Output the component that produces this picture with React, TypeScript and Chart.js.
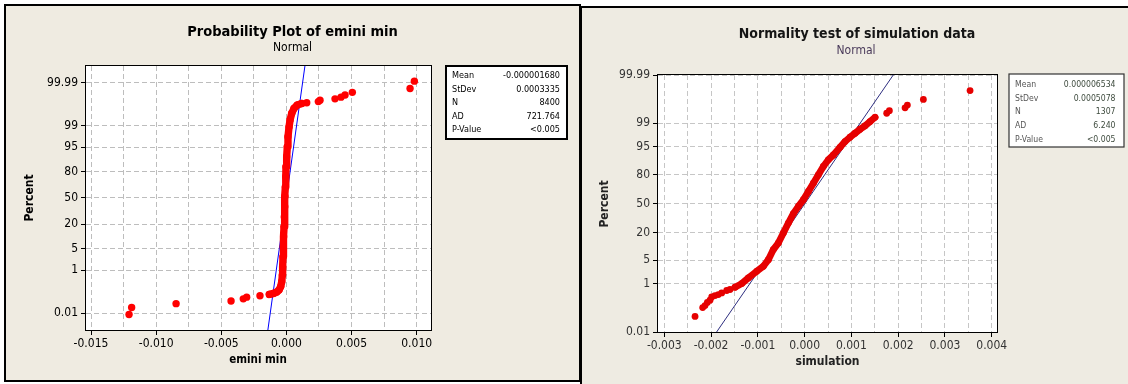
import React, { useEffect, useRef } from 'react';
import { Chart, registerables } from 'chart.js';

Chart.register(...registerables);

const FONT = "'DejaVu Sans Condensed', 'DejaVu Sans', 'Liberation Sans', sans-serif";

// ---------- shared probability axis ----------
const percentTicks = [0.01, 1, 5, 20, 50, 80, 95, 99, 99.99];
const percentTickLabels = ['0.01', '1', '5', '20', '50', '80', '95', '99', '99.99'];
const statLabels = ['Mean', 'StDev', 'N', 'AD', 'P-Value'];

// ---------- left chart: Probability Plot of emini min ----------
const leftTitle = 'Probability Plot of emini min';
const leftSubtitle = 'Normal';
const leftXTitle = 'emini min';
const leftYTitle = 'Percent';
const leftXTicks = [-0.015, -0.0125, -0.01, -0.0075, -0.005, -0.0025, 0, 0.0025, 0.005, 0.0075, 0.01];
const leftXTickLabels = ['-0.015', '', '-0.010', '', '-0.005', '', '0.000', '', '0.005', '', '0.010'];
const leftXRange = [-0.015384, 0.011098];
const leftPercentRange = [0.001, 99.999];
const leftMean = -0.00000168;
const leftStDev = 0.0003335;
const leftStatValues = ['-0.000001680', '0.0003335', '8400', '721.764', '<0.005'];
// dense body of the sample (x value, cumulative percent)
const leftCoreX = [-0.00131, -0.001, -0.00075, -0.00057, -0.00044, -0.00036, -0.00031, -0.00029, -0.00026, -0.00024, -0.00021, -0.00018, -0.00016, -0.00013, -0.00011, -0.00008, -0.00005, -0.00003, 0.00002, 0.00007, 0.00012, 0.0002, 0.00028, 0.00041, 0.00058, 0.00084, 0.00117];
const leftCorePct = [0.092, 0.102, 0.118, 0.147, 0.21, 0.34, 0.64, 1.3, 2.9, 5.8, 10.5, 17.7, 27, 39, 52, 64, 75.5, 84.4, 90.9, 95.1, 97.6, 98.9, 99.42, 99.69, 99.81, 99.868, 99.886];
// isolated extreme points
const leftTailX = [-0.01208, -0.01188, -0.00847, -0.00425, -0.00331, -0.00305, -0.00203, 0.00156, 0.00245, 0.00258, 0.00373, 0.00419, 0.0045, 0.00506, 0.00949, 0.00982];
const leftTailPct = [0.0083, 0.0202, 0.0321, 0.044, 0.0559, 0.0678, 0.0797, 99.896, 99.908, 99.92, 99.932, 99.944, 99.956, 99.968, 99.98, 99.992];

// ---------- right chart: Normality test of simulation data ----------
const rightTitle = 'Normality test of simulation data';
const rightSubtitle = 'Normal';
const rightXTitle = 'simulation';
const rightYTitle = 'Percent';
const rightXTicks = [-0.003, -0.0025, -0.002, -0.0015, -0.001, -0.0005, 0, 0.0005, 0.001, 0.0015, 0.002, 0.0025, 0.003, 0.0035, 0.004];
const rightXTickLabels = ['-0.003', '', '-0.002', '', '-0.001', '', '0.000', '', '0.001', '', '0.002', '', '0.003', '', '0.004'];
const rightXRange = [-0.003135, 0.004113];
const rightPercentRange = [0.01, 99.99];
const rightMean = 0.000006534;
const rightStDev = 0.0005078;
const rightStatValues = ['0.000006534', '0.0005078', '1307', '6.240', '<0.005'];
const rightCoreX = [-0.001488, -0.001346, -0.001203, -0.001025, -0.000882, -0.000775, -0.000669, -0.000562, -0.000455, -0.000348, -0.000241, -0.000134, -0.000027, 0.00008, 0.000187, 0.000294, 0.0004, 0.000507, 0.000614, 0.000757, 0.000864, 0.000971, 0.001078, 0.001185, 0.001291, 0.001398, 0.001505];
const rightCorePct = [0.77, 1.02, 1.56, 2.49, 3.46, 5.2, 9.1, 12.7, 19.7, 28.6, 38.4, 46.7, 54.3, 63.6, 72.2, 79.7, 85.8, 89.7, 92.0, 94.8, 96.35, 97.25, 97.9, 98.42, 98.77, 99.11, 99.37];
const rightTailX = [-0.002343, -0.00218, -0.00213, -0.00208, -0.002023, -0.001987, -0.001916, -0.001845, -0.001773, -0.001666, -0.001595, 0.001755, 0.001812, 0.002147, 0.002197, 0.002539, 0.003537];
const rightTailPct = [0.054, 0.13, 0.157, 0.21, 0.256, 0.34, 0.385, 0.42, 0.483, 0.59, 0.64, 99.55, 99.64, 99.72, 99.78, 99.87, 99.946];

// inverse standard normal CDF (axis transform of the probability scale)
function probit(p: number): number {
  const a = [-3.969683028665376e1, 2.209460984245205e2, -2.759285104469687e2, 1.38357751867269e2, -3.066479806614716e1, 2.506628277459239];
  const b = [-5.447609879822406e1, 1.615858368580409e2, -1.556989798598866e2, 6.680131188771972e1, -1.328068155288572e1];
  const c = [-7.784894002430293e-3, -3.223964580411365e-1, -2.400758277161838, -2.549671324917215, 4.374664141464968, 2.938163982698783];
  const d = [7.784695709041462e-3, 3.224671290700398e-1, 2.445134137142996, 3.754408661907416];
  const pl = 0.02425;
  if (p < pl) {
    const q = Math.sqrt(-2 * Math.log(p));
    return (((((c[0] * q + c[1]) * q + c[2]) * q + c[3]) * q + c[4]) * q + c[5]) / ((((d[0] * q + d[1]) * q + d[2]) * q + d[3]) * q + 1);
  }
  if (p <= 1 - pl) {
    const q = p - 0.5;
    const r = q * q;
    return ((((((a[0] * r + a[1]) * r + a[2]) * r + a[3]) * r + a[4]) * r + a[5]) * q) / (((((b[0] * r + b[1]) * r + b[2]) * r + b[3]) * r + b[4]) * r + 1);
  }
  const q = Math.sqrt(-2 * Math.log(1 - p));
  return -(((((c[0] * q + c[1]) * q + c[2]) * q + c[3]) * q + c[4]) * q + c[5]) / ((((d[0] * q + d[1]) * q + d[2]) * q + d[3]) * q + 1);
}

const Y_W = 50;
const X_H = 30;

const leftCfg = {
  left: 0, width: 580, height: 384,
  area: { left: 86, top: 66, right: 431, bottom: 330 },
  title: leftTitle, subtitle: leftSubtitle, xTitle: leftXTitle, yTitle: leftYTitle,
  titlePos: [292.5, 32], subtitlePos: [292.5, 48], xTitlePos: [258, 360], yTitlePos: [29.5, 198],
  titleSize: 14.5, subSize: 12, axisTitleSize: 12, xTitleSize: 11.5, tickSize: 12,
  xTicks: leftXTicks, xTickLabels: leftXTickLabels, xRange: leftXRange, pctRange: leftPercentRange,
  mean: leftMean, sd: leftStDev, statValues: leftStatValues,
  coreX: leftCoreX, corePct: leftCorePct, tailX: leftTailX, tailPct: leftTailPct,
  red: '#ff0000', radius: 3.7, fitColor: '#0000ff',
  tickColor: '#000', titleColor: '#000', subColor: '#000', axisTitleColor: '#000',
  gridColor: '#bdbdbd',
  box: { x: 446, y: 66, w: 121, h: 73, lw: 2, color: '#000', labelX: 452, valueX: 560, rows: [75.5, 89.3, 102.8, 116.3, 130], font: 9, labelColor: '#000', valueColor: '#000' },
};

const rightCfg = {
  left: 580, width: 548, height: 384,
  area: { left: 78, top: 75, right: 417, bottom: 332 },
  title: rightTitle, subtitle: rightSubtitle, xTitle: rightXTitle, yTitle: rightYTitle,
  titlePos: [277, 34], subtitlePos: [276, 51], xTitlePos: [247.5, 362], yTitlePos: [24.5, 204],
  titleSize: 14, subSize: 12, axisTitleSize: 12, xTitleSize: 12, tickSize: 12,
  xTicks: rightXTicks, xTickLabels: rightXTickLabels, xRange: rightXRange, pctRange: rightPercentRange,
  mean: rightMean, sd: rightStDev, statValues: rightStatValues,
  coreX: rightCoreX, corePct: rightCorePct, tailX: rightTailX, tailPct: rightTailPct,
  red: '#e60000', radius: 3.4, fitColor: '#2e2e80',
  tickColor: '#333', titleColor: '#151515', subColor: '#4a3a5a', axisTitleColor: '#222',
  gridColor: '#c6c6c6',
  box: { x: 429, y: 74, w: 115, h: 73, lw: 1.2, color: '#333', labelX: 435, valueX: 535.5, rows: [84.3, 98.3, 112, 125.7, 139.3], font: 8.6, labelColor: '#555', valueColor: '#3d4a3d' },
};

function buildConfig(cfg: any): any {
  const pts = (xs: number[], ps: number[]) => xs.map((x, i) => ({ x, y: probit(ps[i] / 100) }));
  const zLo = probit(cfg.pctRange[0] / 100);
  const zHi = probit(cfg.pctRange[1] / 100);
  const a = cfg.area;
  const tickFont = { family: FONT, size: cfg.tickSize };

  const decor = {
    id: 'decor',
    beforeDraw(chart: any) {
      const { ctx, chartArea: ca } = chart;
      ctx.save();
      ctx.fillStyle = '#ffffff';
      ctx.fillRect(ca.left, ca.top, ca.right - ca.left, ca.bottom - ca.top);
      ctx.restore();
    },
    afterDraw(chart: any) {
      const { ctx, chartArea: ca } = chart;
      ctx.save();
      ctx.strokeStyle = '#000';
      ctx.lineWidth = 1;
      ctx.strokeRect(Math.round(ca.left) - 0.5, Math.round(ca.top) - 0.5, Math.round(ca.right - ca.left) + 1, Math.round(ca.bottom - ca.top) + 1);

      ctx.textAlign = 'center';
      ctx.textBaseline = 'middle';
      ctx.fillStyle = cfg.titleColor;
      ctx.font = `bold ${cfg.titleSize}px ${FONT}`;
      ctx.fillText(cfg.title, cfg.titlePos[0], cfg.titlePos[1]);
      ctx.fillStyle = cfg.subColor;
      ctx.font = `${cfg.subSize}px ${FONT}`;
      ctx.fillText(cfg.subtitle, cfg.subtitlePos[0], cfg.subtitlePos[1]);
      ctx.fillStyle = cfg.axisTitleColor;
      ctx.font = `bold ${cfg.xTitleSize}px ${FONT}`;
      ctx.fillText(cfg.xTitle, cfg.xTitlePos[0], cfg.xTitlePos[1]);
      ctx.save();
      ctx.font = `bold ${cfg.axisTitleSize}px ${FONT}`;
      ctx.translate(cfg.yTitlePos[0], cfg.yTitlePos[1]);
      ctx.rotate(-Math.PI / 2);
      ctx.fillText(cfg.yTitle, 0, 0);
      ctx.restore();

      const bx = cfg.box;
      ctx.fillStyle = '#ffffff';
      ctx.fillRect(bx.x, bx.y, bx.w, bx.h);
      ctx.strokeStyle = bx.color;
      ctx.lineWidth = bx.lw;
      ctx.strokeRect(bx.x, bx.y, bx.w, bx.h);
      ctx.font = `${bx.font}px ${FONT}`;
      statLabels.forEach((lab, i) => {
        ctx.textAlign = 'left';
        ctx.fillStyle = bx.labelColor;
        ctx.fillText(lab, bx.labelX, bx.rows[i]);
        ctx.textAlign = 'right';
        ctx.fillStyle = bx.valueColor;
        ctx.fillText(cfg.statValues[i], bx.valueX, bx.rows[i]);
      });
      ctx.restore();
    },
  };

  return {
    type: 'scatter',
    data: {
      datasets: [
        {
          label: 'core',
          data: pts(cfg.coreX, cfg.corePct),
          showLine: true,
          borderColor: cfg.red,
          borderWidth: cfg.radius * 2,
          borderCapStyle: 'round',
          borderJoinStyle: 'round',
          pointRadius: cfg.radius,
          pointBackgroundColor: cfg.red,
          pointBorderWidth: 0,
          order: 1,
        },
        {
          label: 'tails',
          data: pts(cfg.tailX, cfg.tailPct),
          showLine: false,
          pointRadius: cfg.radius,
          pointBackgroundColor: cfg.red,
          pointBorderWidth: 0,
          order: 1,
        },
        {
          label: 'fit',
          data: [
            { x: cfg.mean - 6 * cfg.sd, y: -6 },
            { x: cfg.mean + 6 * cfg.sd, y: 6 },
          ],
          showLine: true,
          borderColor: cfg.fitColor,
          borderWidth: 1,
          pointRadius: 0,
          clip: 0,
          order: 2,
        },
      ],
    },
    options: {
      responsive: false,
      animation: false,
      devicePixelRatio: 1,
      events: [],
      layout: {
        padding: {
          left: a.left - Y_W,
          top: a.top,
          right: cfg.width - a.right,
          bottom: cfg.height - a.bottom - X_H,
        },
      },
      plugins: { legend: { display: false }, tooltip: { enabled: false }, title: { display: false } },
      scales: {
        x: {
          type: 'linear',
          min: cfg.xRange[0],
          max: cfg.xRange[1],
          afterBuildTicks: (s: any) => {
            s.ticks = cfg.xTicks.map((v: number) => ({ value: v }));
          },
          afterFit: (s: any) => {
            s.height = X_H;
          },
          ticks: {
            callback: (_v: any, i: number) => cfg.xTickLabels[i],
            autoSkip: false,
            maxRotation: 0,
            minRotation: 0,
            font: tickFont,
            color: cfg.tickColor,
            padding: 2,
          },
          grid: {
            color: cfg.gridColor,
            lineWidth: 1,
            tickLength: 5,
            tickColor: (c: any) => (cfg.xTickLabels[c.index] ? '#000' : 'rgba(0,0,0,0)'),
          },
          border: { display: false, dash: [5, 3] },
        },
        y: {
          type: 'linear',
          min: zLo,
          max: zHi,
          afterBuildTicks: (s: any) => {
            s.ticks = percentTicks.map((p) => ({ value: probit(p / 100) }));
          },
          afterFit: (s: any) => {
            s.width = Y_W;
          },
          ticks: {
            callback: (_v: any, i: number) => percentTickLabels[i],
            autoSkip: false,
            font: tickFont,
            color: cfg.tickColor,
            padding: 3,
          },
          grid: { color: cfg.gridColor, lineWidth: 1, tickLength: 5, tickColor: '#000' },
          border: { display: false, dash: [5, 3] },
        },
      },
    },
    plugins: [decor],
  };
}

function ProbPanel({ cfg }: { cfg: any }) {
  const ref = useRef<HTMLCanvasElement | null>(null);
  useEffect(() => {
    if (!ref.current) return;
    const chart = new Chart(ref.current, buildConfig(cfg));
    return () => chart.destroy();
  }, [cfg]);
  return (
    <canvas
      ref={ref}
      width={cfg.width}
      height={cfg.height}
      style={{ position: 'absolute', left: cfg.left, top: 0, width: cfg.width, height: cfg.height }}
    />
  );
}

export default function App() {
  useEffect(() => {
    document.body.style.margin = '0';
  }, []);
  return (
    <div style={{ position: 'absolute', left: 0, top: 0, width: 1128, height: 384, background: '#fff', overflow: 'hidden' }}>
      <div
        style={{
          position: 'absolute', left: 4, top: 4, width: 577, height: 378, boxSizing: 'border-box',
          border: '2px solid #000', background: '#efebe1',
        }}
      />
      <div
        style={{
          position: 'absolute', left: 580, top: 6, width: 548, height: 378, boxSizing: 'border-box',
          borderLeft: '2px solid #000', borderTop: '2px solid #000', background: '#eeebe2',
        }}
      />
      <ProbPanel cfg={leftCfg} />
      <ProbPanel cfg={rightCfg} />
    </div>
  );
}
